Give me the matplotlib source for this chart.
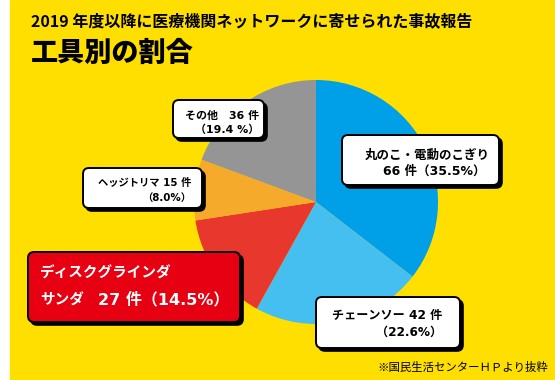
import matplotlib
matplotlib.use("Agg")
import matplotlib.pyplot as plt
from matplotlib.patches import FancyBboxPatch, Rectangle

plt.rcParams['font.family'] = ['Noto Sans CJK JP', 'DejaVu Sans']
NUM = ['DejaVu Sans', 'Noto Sans CJK JP']  # wider latin digits, CJK fallback

# data
labels = ['丸のこ・電動のこぎり', 'チェーンソー', 'ディスクグラインダ\nサンダ', 'ヘッジトリマ', 'その他']
counts = [66, 42, 27, 15, 36]
percents = [35.5, 22.6, 14.5, 8.0, 19.4]
colors = ['#00a0e9', '#45bff0', '#e8382d', '#f5aa2c', '#959595']

title1 = '2019 年度以降に医療機関ネットワークに寄せられた事故報告'
title2 = '工具別の割合'
source = '※国民生活センターＨＰより抜粋'

W, H = 555, 380
fig = plt.figure(figsize=(W / 100, H / 100), dpi=100)
fig.patch.set_facecolor('white')
ax = fig.add_axes([0, 0, 1, 1])

def Y(y):
    return H - y

# yellow background
ax.add_patch(Rectangle((10, 0), W - 10, H, color='#ffdf00', zorder=0))

# pie
ax.pie(counts, colors=colors, startangle=90, counterclock=False,
       center=(316, Y(202)), radius=122, frame=True,
       wedgeprops=dict(linewidth=0))
ax.set_xlim(0, W)
ax.set_ylim(0, H)
ax.set_aspect('equal')
ax.axis('off')

def box(x0, y0, x1, y1, face='white'):
    w, h = x1 - x0, y1 - y0
    sh = FancyBboxPatch((x0 + 3, Y(y1) - 3), w, h,
                        boxstyle='round,pad=0,rounding_size=6',
                        fc='black', ec='black', lw=1.2, zorder=3)
    b = FancyBboxPatch((x0, Y(y1)), w, h,
                       boxstyle='round,pad=0,rounding_size=6',
                       fc=face, ec='black', lw=1.4, zorder=4)
    ax.add_patch(sh)
    ax.add_patch(b)

tk = dict(fontweight='bold', zorder=5, va='center')

# 丸のこ
box(342, 135, 499, 185)
ax.text(427, Y(155), labels[0], ha='center', fontsize=9, **tk)
ax.text(434, Y(171), f'{counts[0]} 件（{percents[0]}%）', ha='center',
        fontsize=9, family=NUM, **tk)

# チェーンソー
box(316, 297, 460, 348)
ax.text(442, Y(315), f'{labels[1]} {counts[1]} 件', ha='right', fontsize=8.7,
        family=NUM, **tk)
ax.text(442, Y(332), f'（{percents[1]}%）', ha='right', fontsize=8.7, family=NUM, **tk)

# ディスクグラインダ
box(28, 252, 240, 322, face='#e60012')
name1, name2 = labels[2].split('\n')
ax.text(40, Y(273), name1, ha='left', fontsize=10.5, color='white', **tk)
ax.text(40, Y(300), name2, ha='left', fontsize=10.5, color='white', **tk)
ax.text(229, Y(300), f'{counts[2]} 件（{percents[2]}%）', ha='right',
        fontsize=11.5, color='white', family=NUM, **tk)

# ヘッジトリマ
box(83, 168, 202, 208)
ax.text(191, Y(183), f'{labels[3]} {counts[3]} 件', ha='right', fontsize=7.4,
        family=NUM, **tk)
ax.text(191, Y(198), f'（{percents[3]:.1f}%）', ha='right', fontsize=7.4,
        family=NUM, **tk)

# その他
box(173, 100, 264, 138)
ax.text(259, Y(116), f'{labels[4]}　{counts[4]} 件', ha='right', fontsize=7.9,
        family=NUM, **tk)
ax.text(259, Y(130), f'（{percents[4]} %）', ha='right', fontsize=7.9,
        family=NUM, **tk)

# titles
ax.text(31, Y(21), title1, ha='left', va='center', fontsize=11.5, fontweight='bold')
ax.text(31, Y(53), title2, ha='left', va='center', fontsize=19.5, fontweight='black')
ax.text(548, Y(367), source, ha='right', va='center', fontsize=8.2)

fig.savefig('out.png', dpi=100, facecolor=fig.get_facecolor())
